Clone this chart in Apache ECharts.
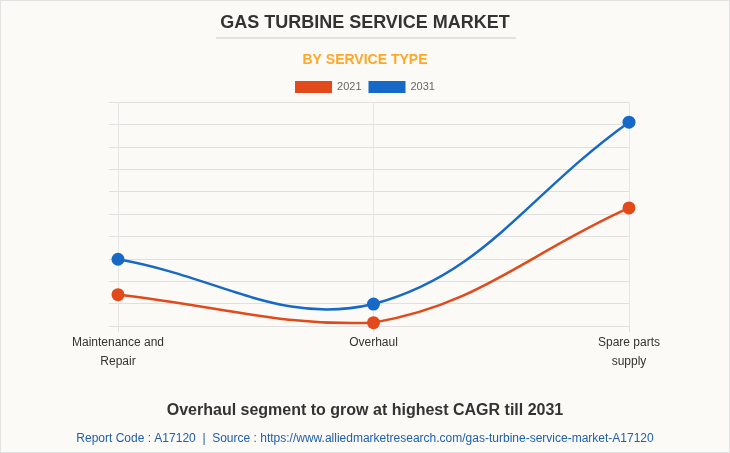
<!DOCTYPE html>
<html>
<head>
<meta charset="utf-8">
<script src="https://cdn.jsdelivr.net/npm/echarts@6/dist/echarts.min.js"></script>
<style>
html,body{margin:0;padding:0;background:#fbfaf6;}
#chart{width:728px;height:451px;border:1px solid #e2e2e2;}
</style>
</head>
<body>
<div id="chart"></div>
<script>
const categories = ['Maintenance and\nRepair', 'Overhaul', 'Spare parts\nsupply'];
const values2021 = [1400, 150, 5270];
const values2031 = [2980, 980, 9100];
const seriesNames = ['2021', '2031'];
const colors = ['#e2491b', '#1769c7'];
const yMin = 0, yMax = 10000, yStep = 1000;

const chart = echarts.init(document.getElementById('chart'));
const font = '"Liberation Sans", Arial, sans-serif';

// Cardinal-style spline (tension 0.4) drawn through the chart's own coordinate system
function splineRenderer(values, color) {
  return function (params, api) {
    if (params.dataIndex !== 0) return null;
    const pts = values.map((v, i) => api.coord([i, v]));
    const bottom = api.coord([0, yMin])[1], top = api.coord([0, yMax])[1];
    const capY = y => Math.max(top, Math.min(bottom, y));
    const t = 0.4;
    const cps = pts.map((p, i) => {
      const prev = pts[i - 1] || p;
      const next = pts[i + 1] || p;
      const d01 = Math.hypot(p[0] - prev[0], p[1] - prev[1]);
      const d12 = Math.hypot(next[0] - p[0], next[1] - p[1]);
      const sum = d01 + d12 || 1;
      const fa = t * d01 / sum, fb = t * d12 / sum;
      return {
        prev: [p[0] - fa * (next[0] - prev[0]), capY(p[1] - fa * (next[1] - prev[1]))],
        next: [p[0] + fb * (next[0] - prev[0]), capY(p[1] + fb * (next[1] - prev[1]))]
      };
    });
    const children = [];
    for (let i = 0; i < pts.length - 1; i++) {
      children.push({
        type: 'bezierCurve',
        shape: {
          x1: pts[i][0], y1: pts[i][1],
          cpx1: cps[i].next[0], cpy1: cps[i].next[1],
          cpx2: cps[i + 1].prev[0], cpy2: cps[i + 1].prev[1],
          x2: pts[i + 1][0], y2: pts[i + 1][1]
        },
        style: { stroke: color, lineWidth: 2.5, fill: null }
      });
    }
    return { type: 'group', children };
  };
}

chart.setOption({
  backgroundColor: '#fbfaf6',
  textStyle: { fontFamily: font },
  title: [
    { text: 'GAS TURBINE SERVICE MARKET', left: 'center', top: 8,
      textStyle: { fontSize: 18, fontWeight: 900, color: '#333', fontFamily: font } },
    { text: 'BY SERVICE TYPE', left: 'center', top: 47,
      textStyle: { fontSize: 14, fontWeight: 'bold', color: '#ffa726', fontFamily: font } },
    { text: 'Overhaul segment to grow at highest CAGR till 2031', left: 'center', top: 397,
      textStyle: { fontSize: 16, fontWeight: 'bold', color: '#333', fontFamily: font } },
    { text: 'Report Code : A17120  |  Source : https://www.alliedmarketresearch.com/gas-turbine-service-market-A17120',
      left: 'center', top: 427,
      textStyle: { fontSize: 12, fontWeight: 'normal', color: '#1d5fb0', fontFamily: font } }
  ],
  graphic: [
    { type: 'line', shape: { x1: 215, y1: 37, x2: 515, y2: 37 }, style: { stroke: '#c8c8c8', lineWidth: 1 } }
  ],
  legend: {
    data: seriesNames, top: 75, left: 'center', icon: 'rect',
    itemWidth: 37, itemHeight: 12, itemGap: 7,
    textStyle: { fontSize: 11, color: '#666', fontFamily: font }
  },
  grid: { left: 117, right: 100, top: 101, bottom: 126 },
  xAxis: {
    type: 'category', data: categories, boundaryGap: false,
    axisLine: { lineStyle: { color: '#e0e0e0' } },
    axisTick: { show: true, length: 6, lineStyle: { color: '#e0e0e0' } },
    splitLine: { show: true, lineStyle: { color: '#e6e6e6' } },
    axisLabel: { color: '#333', fontSize: 12, lineHeight: 19, margin: 7, fontFamily: font }
  },
  yAxis: {
    type: 'value', min: yMin, max: yMax, interval: yStep,
    axisLine: { show: false },
    axisTick: { show: true, length: 9, lineStyle: { color: '#e0e0e0' } },
    axisLabel: { show: false },
    splitLine: { lineStyle: { color: '#e0e0e0' } }
  },
  series: [
    { name: seriesNames[0], type: 'custom', data: values2021, color: colors[0],
      itemStyle: { color: colors[0] }, renderItem: splineRenderer(values2021, colors[0]), z: 2 },
    { name: seriesNames[1], type: 'custom', data: values2031, color: colors[1],
      itemStyle: { color: colors[1] }, renderItem: splineRenderer(values2031, colors[1]), z: 2 },
    { name: seriesNames[0], type: 'line', data: values2021,
      symbol: 'circle', symbolSize: 13, color: colors[0], z: 3,
      lineStyle: { width: 0, opacity: 0 }, itemStyle: { color: colors[0] } },
    { name: seriesNames[1], type: 'line', data: values2031,
      symbol: 'circle', symbolSize: 13, color: colors[1], z: 3,
      lineStyle: { width: 0, opacity: 0 }, itemStyle: { color: colors[1] } }
  ]
});
</script>
</body>
</html>
